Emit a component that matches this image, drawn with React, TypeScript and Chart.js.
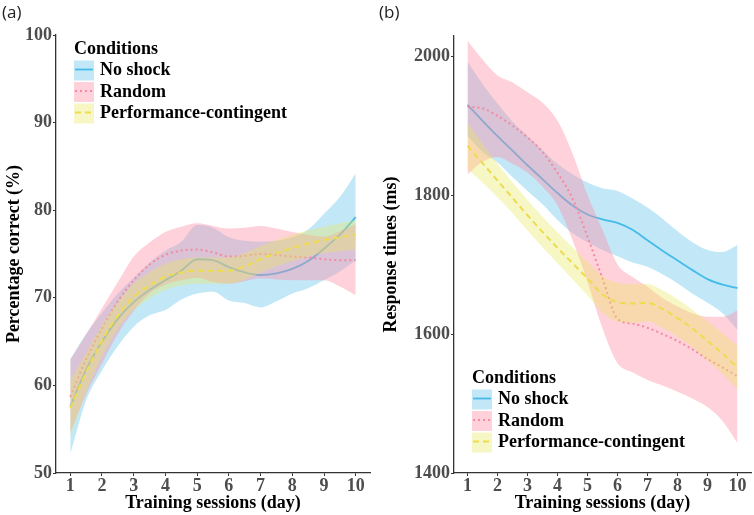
import React, { useEffect, useRef } from "react";
import { Chart, registerables } from "chart.js";

Chart.register(...registerables);

// ---------- data ----------
const days = [1, 1.5, 2, 2.5, 3, 3.5, 4, 4.5, 5, 5.5, 6, 6.5, 7, 7.5, 8, 8.5, 9, 9.5, 10];
const dayTicks = [1, 2, 3, 4, 5, 6, 7, 8, 9, 10];
const conditionNames = ["No shock", "Random", "Performance-contingent"];

// (a) Percentage correct (%)
const accTicks = [50, 60, 70, 80, 90, 100];
const accNoShock = [57.6, 61.8, 65.0, 67.6, 69.5, 70.9, 72.0, 73.1, 74.4, 74.3, 73.5, 72.9, 72.6, 72.8, 73.3, 74.2, 75.6, 77.2, 79.2];
const accNoShockUpper = [63.0, 65.9, 68.3, 70.5, 72.3, 74.0, 75.4, 76.4, 78.3, 78.0, 76.9, 76.5, 76.4, 76.5, 76.9, 77.8, 79.6, 81.5, 84.2];
const accNoShockLower = [52.2, 58.3, 61.7, 64.5, 66.7, 68.0, 68.6, 69.8, 70.5, 70.7, 69.7, 69.4, 68.9, 69.6, 70.5, 71.1, 72.0, 73.0, 74.3];
const accRandom = [58.7, 63.0, 66.5, 69.6, 72.0, 73.8, 74.9, 75.4, 75.5, 75.2, 74.7, 74.8, 75.0, 74.9, 74.7, 74.6, 74.4, 74.3, 74.3];
const accRandomUpper = [62.9, 65.8, 68.8, 71.8, 74.7, 76.3, 77.5, 78.1, 78.5, 78.2, 77.9, 78.0, 78.2, 77.9, 77.5, 77.2, 77.0, 77.6, 78.4];
const accRandomLower = [54.6, 59.0, 62.5, 65.9, 68.5, 70.5, 71.5, 72.0, 72.3, 71.8, 71.6, 71.9, 72.2, 72.1, 72.0, 72.0, 72.0, 71.3, 70.3];
const accPerf = [57.4, 61.5, 65.1, 68.0, 70.1, 71.4, 72.4, 72.9, 73.1, 73.1, 73.1, 73.6, 74.4, 75.1, 75.7, 76.2, 76.6, 76.9, 77.2];
const accPerfUpper = [60.6, 63.7, 66.9, 69.5, 71.6, 72.9, 73.9, 74.4, 74.6, 74.6, 74.6, 75.1, 75.9, 76.6, 77.2, 77.7, 78.1, 78.5, 78.9];
const accPerfLower = [54.2, 59.3, 63.3, 66.5, 68.6, 69.9, 70.9, 71.4, 71.6, 71.6, 71.6, 72.1, 72.9, 73.6, 74.2, 74.7, 75.1, 75.3, 75.5];

// (b) Response times (ms)
const rtTicks = [1400, 1600, 1800, 2000];
const rtNoShock = [1930, 1907, 1885, 1864, 1843, 1823, 1803, 1785, 1772, 1765, 1760, 1750, 1735, 1720, 1706, 1692, 1679, 1671, 1666];
const rtNoShockUpper = [1992, 1960, 1932, 1906, 1885, 1865, 1845, 1830, 1818, 1810, 1806, 1795, 1782, 1766, 1748, 1732, 1721, 1718, 1728];
const rtNoShockLower = [1885, 1862, 1847, 1826, 1806, 1787, 1764, 1745, 1732, 1721, 1712, 1703, 1697, 1686, 1673, 1658, 1645, 1630, 1606];
const rtRandom = [1927, 1925, 1914, 1900, 1883, 1862, 1832, 1795, 1740, 1680, 1622, 1615, 1609, 1600, 1590, 1578, 1564, 1552, 1539];
const rtRandomUpper = [2022, 1995, 1972, 1962, 1948, 1933, 1907, 1860, 1800, 1750, 1700, 1682, 1668, 1652, 1640, 1630, 1625, 1625, 1634];
const rtRandomLower = [1830, 1848, 1855, 1845, 1832, 1812, 1785, 1735, 1675, 1608, 1558, 1545, 1534, 1526, 1517, 1507, 1495, 1475, 1443];
const rtPerf = [1871, 1846, 1821, 1796, 1771, 1747, 1724, 1702, 1680, 1657, 1646, 1644, 1645, 1636, 1623, 1608, 1590, 1572, 1552];
const rtPerfUpper = [1904, 1874, 1845, 1818, 1793, 1769, 1746, 1725, 1704, 1683, 1674, 1672, 1672, 1663, 1650, 1635, 1618, 1601, 1583];
const rtPerfLower = [1838, 1818, 1797, 1774, 1749, 1725, 1702, 1679, 1656, 1631, 1618, 1616, 1618, 1609, 1596, 1581, 1562, 1543, 1521];

// ---------- styles ----------
const STYLES = [
  { line: "#45BBEA", fill: "rgba(110, 200, 238, 0.42)", dash: [] as number[], width: 1.8 },
  { line: "#F4899F", fill: "rgba(255, 140, 162, 0.40)", dash: [2, 3], width: 2 },
  { line: "#EDDC4E", fill: "rgba(232, 232, 95, 0.36)", dash: [6, 4], width: 2 },
];

const SERIF = "'Liberation Serif', 'Times New Roman', serif";

type Series = { mid: number[]; up: number[]; lo: number[] };

function pts(vals: number[]) {
  return vals.map((v, i) => ({ x: days[i], y: v }));
}

function buildDatasets(series: Series[]) {
  const out: any[] = [];
  // reversed so No shock is drawn first (Chart.js draws last index first)
  for (let k = series.length - 1; k >= 0; k--) {
    const s = series[k];
    const st = STYLES[k];
    out.push({
      label: conditionNames[k],
      data: pts(s.mid),
      borderColor: st.line,
      borderWidth: st.width,
      borderDash: st.dash,
      pointRadius: 0,
      fill: false,
      cubicInterpolationMode: "monotone",
    });
    out.push({
      label: conditionNames[k] + " upper",
      data: pts(s.up),
      borderWidth: 0,
      borderColor: "rgba(0,0,0,0)",
      backgroundColor: st.fill,
      pointRadius: 0,
      fill: "+1",
      cubicInterpolationMode: "monotone",
    });
    out.push({
      label: conditionNames[k] + " lower",
      data: pts(s.lo),
      borderWidth: 0,
      borderColor: "rgba(0,0,0,0)",
      pointRadius: 0,
      fill: false,
      cubicInterpolationMode: "monotone",
    });
  }
  return out;
}

type PanelCfg = {
  tag: string;
  yTitle: string;
  yMin: number;
  yMax: number;
  yTicks: number[];
  series: Series[];
  yAxisWidth: number;
  padRight: number;
  padTop: number;
  legendX: number;
  legendTitleY: number;
};

const legendPlugin = {
  id: "bandLegend",
  afterDraw(chart: any) {
    const cfg = chart.options.plugins.bandLegend;
    if (!cfg) return;
    const ctx = chart.ctx;
    ctx.save();
    // panel tag
    ctx.fillStyle = "#222";
    ctx.font = "17px 'Open Sans', 'Liberation Sans', sans-serif";
    ctx.textBaseline = "middle";
    ctx.textAlign = "left";
    ctx.fillText(cfg.tag, 2, 13);
    // legend title
    ctx.fillStyle = "#000";
    ctx.font = `bold 18px ${SERIF}`;
    ctx.fillText("Conditions", cfg.x, cfg.titleY);
    for (let k = 0; k < conditionNames.length; k++) {
      const cy = cfg.titleY + 21.5 * (k + 1);
      const st = STYLES[k];
      ctx.fillStyle = st.fill;
      ctx.fillRect(cfg.x, cy - 10, 20, 20);
      ctx.beginPath();
      ctx.setLineDash(st.dash);
      ctx.strokeStyle = st.line;
      ctx.lineWidth = st.width;
      ctx.moveTo(cfg.x + 1, cy - 1);
      ctx.lineTo(cfg.x + 19, cy - 1);
      ctx.stroke();
      ctx.setLineDash([]);
      ctx.fillStyle = "#000";
      ctx.fillText(conditionNames[k], cfg.x + 26, cy);
    }
    ctx.restore();
  },
};

function Panel({ cfg, left }: { cfg: PanelCfg; left: number }) {
  const ref = useRef<HTMLCanvasElement | null>(null);
  useEffect(() => {
    if (!ref.current) return;
    const tickFont = { family: SERIF, size: 18, weight: "bold" as const };
    const chart = new Chart(ref.current, {
      type: "line",
      data: { datasets: buildDatasets(cfg.series) },
      plugins: [legendPlugin],
      options: {
        responsive: false,
        animation: false,
        events: [],
        layout: { padding: { top: cfg.padTop, right: cfg.padRight, left: 0, bottom: 0 } },
        plugins: {
          legend: { display: false },
          tooltip: { enabled: false },
          filler: { drawTime: "beforeDatasetDraw", propagate: false },
          bandLegend: { tag: cfg.tag, x: cfg.legendX, titleY: cfg.legendTitleY },
        } as any,
        scales: {
          x: {
            type: "linear",
            min: 0.55,
            max: 10.45,
            afterBuildTicks: (s: any) => {
              s.ticks = dayTicks.map((v) => ({ value: v }));
            },
            afterFit: (s: any) => {
              s.height = 42;
            },
            ticks: {
              font: tickFont,
              color: "#4D4D4D",
              padding: 0,
              maxRotation: 0,
              autoSkip: false,
              callback: (v: any) => String(v),
            },
            grid: { drawOnChartArea: false, drawTicks: true, tickLength: 3, color: "#333" },
            border: { display: true, color: "#333", width: 1.3 },
            title: {
              display: true,
              text: "Training sessions (day)",
              font: tickFont,
              color: "#000",
              padding: { top: 0, bottom: 1 },
            },
          },
          y: {
            type: "linear",
            min: cfg.yMin,
            max: cfg.yMax,
            afterBuildTicks: (s: any) => {
              s.ticks = cfg.yTicks.map((v) => ({ value: v }));
            },
            afterFit: (s: any) => {
              s.width = cfg.yAxisWidth;
            },
            ticks: { font: tickFont, color: "#4D4D4D", padding: 1, callback: (v: any) => String(v) },
            grid: { drawOnChartArea: false, drawTicks: true, tickLength: 3, color: "#333" },
            border: { display: true, color: "#333", width: 1.3 },
            title: {
              display: true,
              text: cfg.yTitle,
              font: tickFont,
              color: "#000",
              padding: { top: 4, bottom: 0 },
            },
          },
        },
      } as any,
    });
    return () => chart.destroy();
  }, [cfg]);
  return (
    <canvas
      ref={ref}
      width={377}
      height={515}
      style={{ position: "absolute", left, top: 0, width: 377, height: 515 }}
    />
  );
}

const panelA: PanelCfg = {
  tag: "(a)",
  yTitle: "Percentage correct (%)",
  yMin: 50,
  yMax: 100,
  yTicks: accTicks,
  series: [
    { mid: accNoShock, up: accNoShockUpper, lo: accNoShockLower },
    { mid: accRandom, up: accRandomUpper, lo: accRandomLower },
    { mid: accPerf, up: accPerfUpper, lo: accPerfLower },
  ],
  yAxisWidth: 56,
  padRight: 7,
  padTop: 35,
  legendX: 74,
  legendTitleY: 49,
};

const panelB: PanelCfg = {
  tag: "(b)",
  yTitle: "Response times (ms)",
  yMin: 1400,
  yMax: 2029,
  yTicks: rtTicks,
  series: [
    { mid: rtNoShock, up: rtNoShockUpper, lo: rtNoShockLower },
    { mid: rtRandom, up: rtRandomUpper, lo: rtRandomLower },
    { mid: rtPerf, up: rtPerfUpper, lo: rtPerfLower },
  ],
  yAxisWidth: 77,
  padRight: 3,
  padTop: 36,
  legendX: 95,
  legendTitleY: 378,
};

export default function App() {
  return (
    <div style={{ position: "fixed", left: 0, top: 0, width: 754, height: 515, background: "#fff" }}>
      <Panel cfg={panelA} left={0} />
      <Panel cfg={panelB} left={377} />
    </div>
  );
}
